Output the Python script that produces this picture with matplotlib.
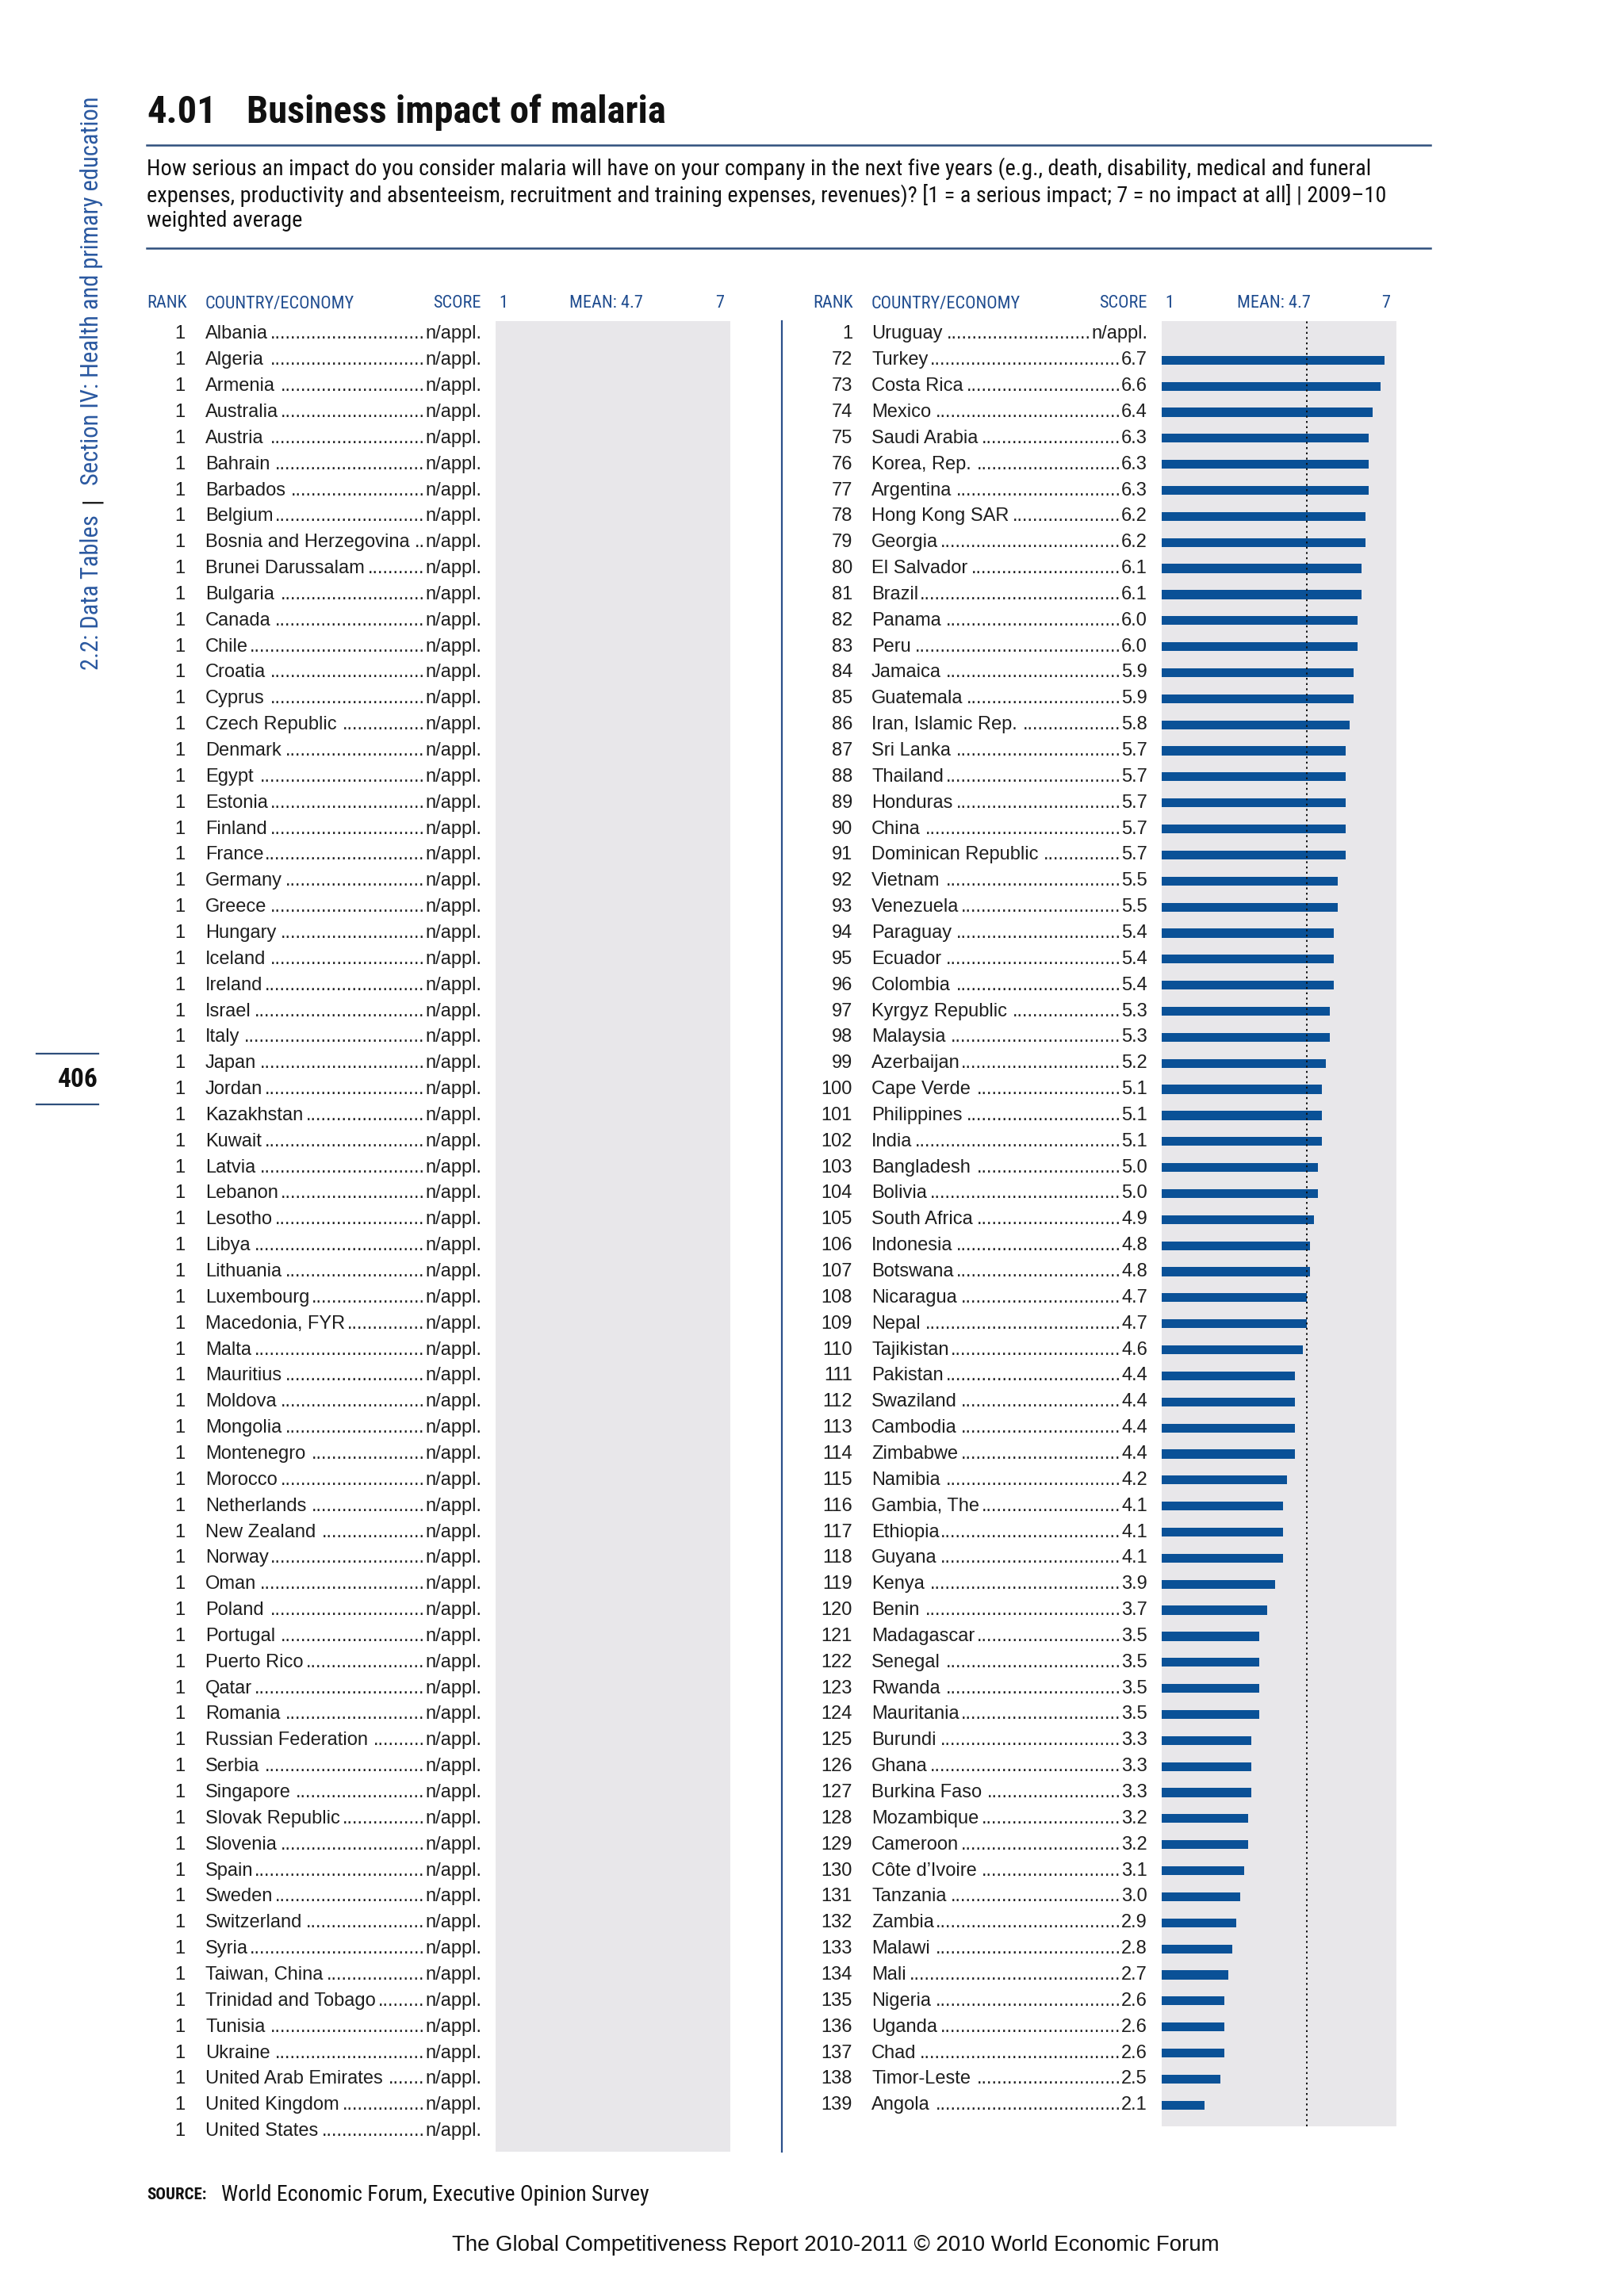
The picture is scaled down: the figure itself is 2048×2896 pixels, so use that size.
import os
import matplotlib
matplotlib.use("Agg")
import matplotlib.pyplot as plt
import matplotlib.font_manager as fm
from matplotlib.font_manager import FontProperties
from matplotlib import transforms
from matplotlib.lines import Line2D

# ---------------- data ----------------
left_countries = [
    "Albania", "Algeria", "Armenia", "Australia", "Austria", "Bahrain", "Barbados",
    "Belgium", "Bosnia and Herzegovina", "Brunei Darussalam", "Bulgaria", "Canada",
    "Chile", "Croatia", "Cyprus", "Czech Republic", "Denmark", "Egypt", "Estonia",
    "Finland", "France", "Germany", "Greece", "Hungary", "Iceland", "Ireland",
    "Israel", "Italy", "Japan", "Jordan", "Kazakhstan", "Kuwait", "Latvia",
    "Lebanon", "Lesotho", "Libya", "Lithuania", "Luxembourg", "Macedonia, FYR",
    "Malta", "Mauritius", "Moldova", "Mongolia", "Montenegro", "Morocco",
    "Netherlands", "New Zealand", "Norway", "Oman", "Poland", "Portugal",
    "Puerto Rico", "Qatar", "Romania", "Russian Federation", "Serbia", "Singapore",
    "Slovak Republic", "Slovenia", "Spain", "Sweden", "Switzerland", "Syria",
    "Taiwan, China", "Trinidad and Tobago", "Tunisia", "Ukraine",
    "United Arab Emirates", "United Kingdom", "United States",
]
left_ranks = [1] * len(left_countries)
left_scores = [None] * len(left_countries)

right_countries = [
    "Uruguay", "Turkey", "Costa Rica", "Mexico", "Saudi Arabia", "Korea, Rep.",
    "Argentina", "Hong Kong SAR", "Georgia", "El Salvador", "Brazil", "Panama",
    "Peru", "Jamaica", "Guatemala", "Iran, Islamic Rep.", "Sri Lanka", "Thailand",
    "Honduras", "China", "Dominican Republic", "Vietnam", "Venezuela", "Paraguay",
    "Ecuador", "Colombia", "Kyrgyz Republic", "Malaysia", "Azerbaijan",
    "Cape Verde", "Philippines", "India", "Bangladesh", "Bolivia", "South Africa",
    "Indonesia", "Botswana", "Nicaragua", "Nepal", "Tajikistan", "Pakistan",
    "Swaziland", "Cambodia", "Zimbabwe", "Namibia", "Gambia, The", "Ethiopia",
    "Guyana", "Kenya", "Benin", "Madagascar", "Senegal", "Rwanda", "Mauritania",
    "Burundi", "Ghana", "Burkina Faso", "Mozambique", "Cameroon",
    "Côte d\u2019Ivoire", "Tanzania", "Zambia", "Malawi", "Mali", "Nigeria",
    "Uganda", "Chad", "Timor-Leste", "Angola",
]
right_ranks = [1, 72, 73, 74, 75, 76, 77, 78, 79, 80, 81, 82, 83, 84, 85, 86, 87,
               88, 89, 90, 91, 92, 93, 94, 95, 96, 97, 98, 99, 100, 101, 102, 103,
               104, 105, 106, 107, 108, 109, 110, 111, 112, 113, 114, 115, 116,
               117, 118, 119, 120, 121, 122, 123, 124, 125, 126, 127, 128, 129,
               130, 131, 132, 133, 134, 135, 136, 137, 138, 139]
right_scores = [None, 6.7, 6.6, 6.4, 6.3, 6.3, 6.3, 6.2, 6.2, 6.1, 6.1, 6.0, 6.0,
                5.9, 5.9, 5.8, 5.7, 5.7, 5.7, 5.7, 5.7, 5.5, 5.5, 5.4, 5.4, 5.4,
                5.3, 5.3, 5.2, 5.1, 5.1, 5.1, 5.0, 5.0, 4.9, 4.8, 4.8, 4.7, 4.7,
                4.6, 4.4, 4.4, 4.4, 4.4, 4.2, 4.1, 4.1, 4.1, 3.9, 3.7, 3.5, 3.5,
                3.5, 3.5, 3.3, 3.3, 3.3, 3.2, 3.2, 3.1, 3.0, 2.9, 2.8, 2.7, 2.6,
                2.6, 2.6, 2.5, 2.1]
mean_score = 4.7
scale_min, scale_max = 1, 7

# ---------------- fonts ----------------
def _is_bold(f):
    w = f.weight
    if isinstance(w, str):
        w = fm.weight_dict.get(w, 400)
    return w >= 600

def find_narrow(bold):
    prefs = ["Liberation Sans Narrow", "Roboto Condensed", "Open Sans Condensed",
             "Noto Sans Condensed", "DejaVu Sans"]
    for p in prefs:
        for f in fm.fontManager.ttflist:
            base = os.path.basename(f.fname)
            narrowish = ("Narrow" in base or "Condensed" in base or "Cond" in base
                         or f.stretch in ("condensed", "semi-condensed", "extra-condensed"))
            if f.name == p and narrowish and f.style == "normal" and _is_bold(f) == bold:
                if "Light" in base or "Thin" in base or "Medium" in base:
                    continue
                return f.fname
    return None

narrow_reg = find_narrow(False)
narrow_bold = find_narrow(True)

def NF(size, bold=False):
    fn = narrow_bold if bold else narrow_reg
    if fn:
        return FontProperties(fname=fn, size=size)
    return FontProperties(family=["Liberation Sans", "DejaVu Sans"],
                          weight="bold" if bold else "normal", size=size * 0.85)

def RF(size, bold=False):
    return FontProperties(family=["Liberation Sans", "DejaVu Sans"],
                          weight="bold" if bold else "normal", size=size)

# ---------------- figure ----------------
W, H = 2048, 2896
fig = plt.figure(figsize=(W / 100, H / 100), dpi=100)
fig.patch.set_facecolor("white")

def X(px):
    return px / W

def Y(py):
    return 1 - py / H

HDR_BLUE = "#1f4c8f"
RULE_BLUE = "#2e4f7c"
BAR_BLUE = "#0a5197"
PANEL_GRAY = "#e8e7ea"
TXT = "#1e1e1e"

# title
fig.text(X(185), Y(142), "4.01", fontproperties=NF(35, True), va="center", ha="left", color="#111")
fig.text(X(311), Y(142), "Business impact of malaria", fontproperties=NF(35, True),
         va="center", ha="left", color="#111")
fig.add_artist(Line2D([X(185), X(1804)], [Y(183), Y(183)], color=RULE_BLUE, lw=1.8))
sub_lines = [
    "How serious an impact do you consider malaria will have on your company in the next five years (e.g., death, disability, medical and funeral",
    "expenses, productivity and absenteeism, recruitment and training expenses, revenues)? [1 = a serious impact; 7 = no impact at all] | 2009\u201310",
    "weighted average",
]
for i, s in enumerate(sub_lines):
    fig.text(X(185), Y(213 + i * 33), s, fontproperties=NF(20.3), va="center", ha="left", color="#111")
fig.add_artist(Line2D([X(185), X(1804)], [Y(313), Y(313)], color=RULE_BLUE, lw=1.8))

# sidebar
fig.text(X(115), Y(845), "2.2: Data Tables", fontproperties=NF(22), rotation=90,
         ha="center", va="bottom", color="#2a58a0")
fig.text(X(115), Y(631), "|", fontproperties=NF(22), rotation=90, ha="center",
         va="center", color="#111")
fig.text(X(115), Y(612), "Section IV: Health and primary education", fontproperties=NF(22),
         rotation=90, ha="center", va="bottom", color="#2a58a0")

# page number
fig.add_artist(Line2D([X(46), X(124)], [Y(1329), Y(1329)], color=RULE_BLUE, lw=1.6))
fig.add_artist(Line2D([X(46), X(124)], [Y(1393), Y(1393)], color=RULE_BLUE, lw=1.6))
fig.text(X(124), Y(1362), "406", fontproperties=NF(24, True), ha="right", va="center", color="#111")

# divider
fig.add_artist(Line2D([X(986), X(986)], [Y(405), Y(2714)], color="#2a4f8a", lw=1.6))

PITCH = 32.85
PANEL_TOP = 405
row_font = RF(17)

cols = [
    dict(countries=left_countries, ranks=left_ranks, scores=left_scores,
         rank_x=233, rank_hx=185, name_x=259, score_x=607, panel_x0=625, panel_x1=921,
         mean_x=764, draw_mean=False),
    dict(countries=right_countries, ranks=right_ranks, scores=right_scores,
         rank_x=1075, rank_hx=1025, name_x=1099, score_x=1447, panel_x0=1465, panel_x1=1761,
         mean_x=1606, draw_mean=True),
]

pending = []
for c in cols:
    n = len(c["countries"])
    extra = 0.3
    h_px = (n + extra) * PITCH
    ax = fig.add_axes([X(c["panel_x0"]), Y(PANEL_TOP + h_px), (c["panel_x1"] - c["panel_x0"]) / W, h_px / H])
    ax.set_xlim(scale_min, scale_max)
    ax.set_ylim(n - 0.5 + extra, -0.5)
    ax.set_facecolor(PANEL_GRAY)
    for sp in ax.spines.values():
        sp.set_visible(False)
    ax.set_xticks([])
    ax.set_yticks([])
    ys = [i for i, v in enumerate(c["scores"]) if v is not None]
    vals = [v for v in c["scores"] if v is not None]
    if ys:
        ax.barh(ys, [v - scale_min for v in vals], left=scale_min, height=0.34,
                color=BAR_BLUE, zorder=2)
    if c["draw_mean"]:
        ax.axvline(mean_score, color="#111", lw=1.4, linestyle=(0, (1.2, 2.2)), zorder=3)

    # headers
    hf = NF(16)
    fig.text(X(c["rank_hx"]), Y(383), "RANK", fontproperties=hf, ha="left", va="center", color=HDR_BLUE)
    fig.text(X(c["name_x"]), Y(383), "COUNTRY/ECONOMY", fontproperties=hf, ha="left", va="center", color=HDR_BLUE)
    fig.text(X(c["score_x"]), Y(383), "SCORE", fontproperties=hf, ha="right", va="center", color=HDR_BLUE)
    fig.text(X(c["panel_x0"] + 4), Y(383), "1", fontproperties=hf, ha="left", va="center", color=HDR_BLUE)
    fig.text(X(c["mean_x"]), Y(383), "MEAN: %.1f" % mean_score, fontproperties=hf, ha="center", va="center", color=HDR_BLUE)
    fig.text(X(c["panel_x1"] - 8), Y(383), "7", fontproperties=hf, ha="right", va="center", color=HDR_BLUE)

    tr = transforms.blended_transform_factory(fig.transFigure, ax.transData)
    for i, (name, rk, sc) in enumerate(zip(c["countries"], c["ranks"], c["scores"])):
        fig.text(X(c["rank_x"]), i, str(rk), transform=tr, fontproperties=row_font,
                 ha="right", va="center", color=TXT)
        tn = fig.text(X(c["name_x"]), i, name, transform=tr, fontproperties=row_font,
                      ha="left", va="center", color=TXT)
        lab = "n/appl." if sc is None else "%.1f" % sc
        ts = fig.text(X(c["score_x"]), i, lab, transform=tr, fontproperties=row_font,
                      ha="right", va="center", color=TXT)
        pending.append((tn, ts, i, tr))

# dot leaders
renderer = fig.canvas.get_renderer()
probe = fig.text(0, 0, "." * 100, fontproperties=row_font)
dot_w = probe.get_window_extent(renderer).width / 100.0
probe.remove()
for tn, ts, i, tr in pending:
    bn = tn.get_window_extent(renderer)
    bs = ts.get_window_extent(renderer)
    gap = bs.x0 - bn.x1 - 2
    nd = int(gap // dot_w)
    if nd > 0:
        fig.text((bs.x0 - 0.5) / W, i, "." * nd, transform=tr, fontproperties=row_font,
                 ha="right", va="center", color=TXT)

# source & footer
fig.text(X(185), Y(2769), "SOURCE:", fontproperties=NF(15, True), ha="left", va="center", color="#111")
fig.text(X(279), Y(2769), "World Economic Forum, Executive Opinion Survey", fontproperties=NF(20),
         ha="left", va="center", color="#111")
fig.text(X(1054), Y(2832), "The Global Competitiveness Report 2010-2011 \u00a9 2010 World Economic Forum",
         fontproperties=RF(19.9), ha="center", va="center", color="#111")

fig.savefig("out.png", dpi=100, facecolor="white")
